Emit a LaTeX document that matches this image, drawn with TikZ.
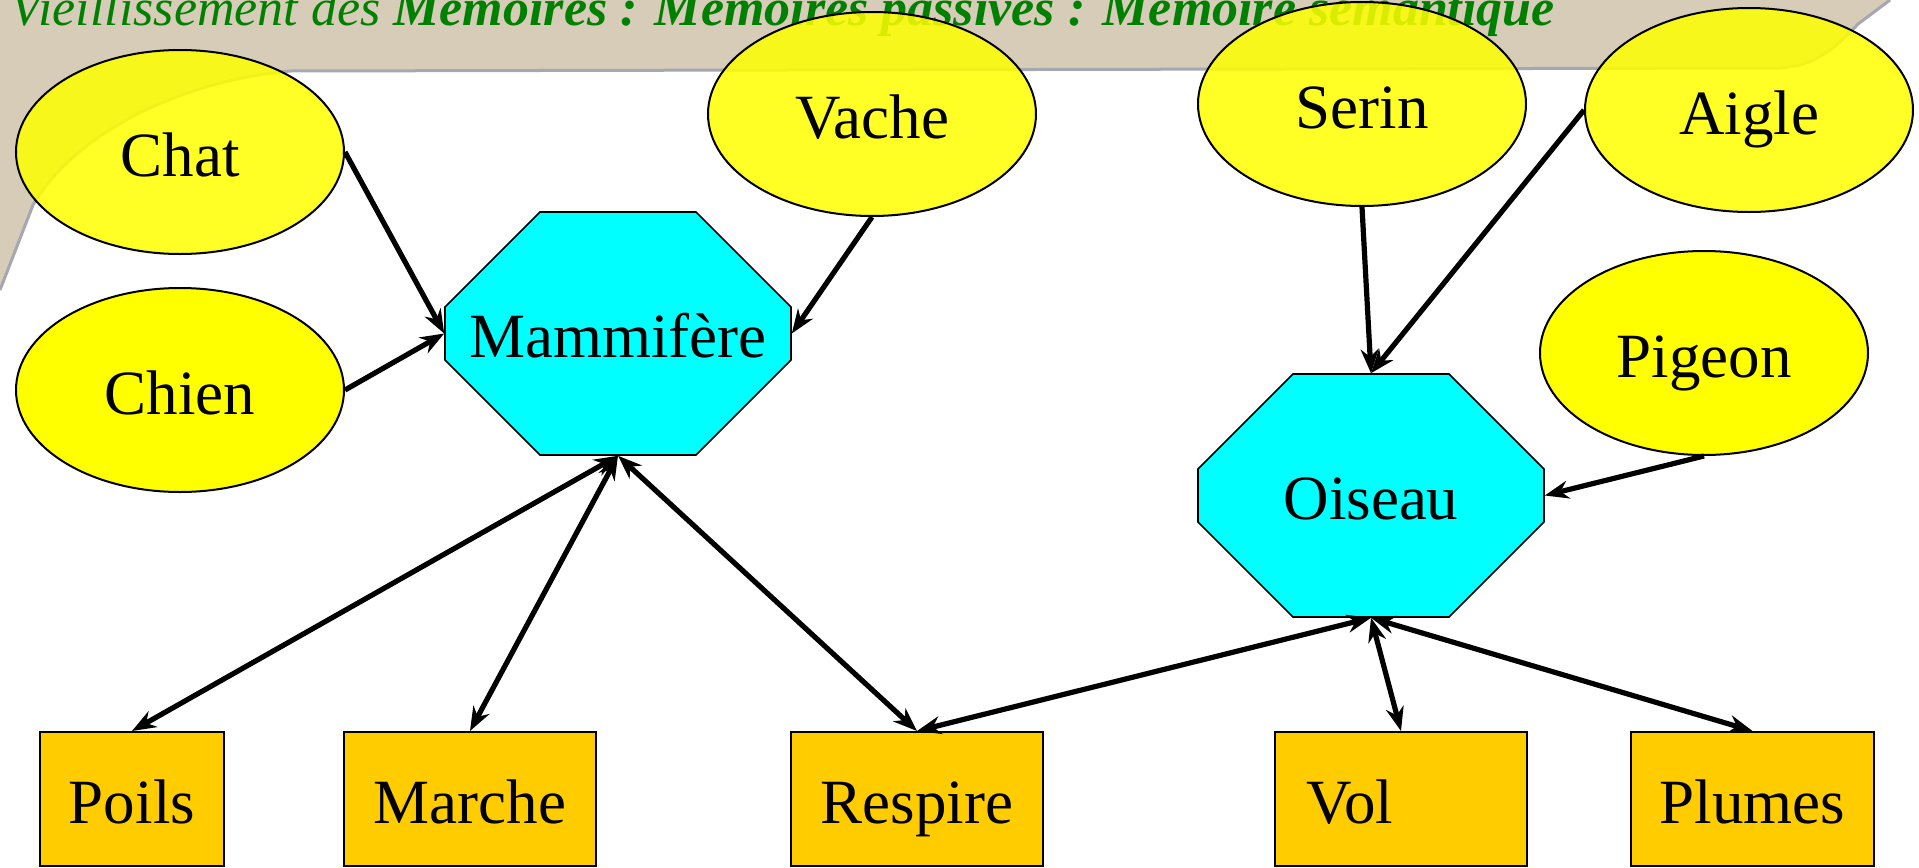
\documentclass[tikz,border=0pt]{standalone}
\usepackage{fontspec}
\setmainfont{Liberation Serif}
\usetikzlibrary{shapes.geometric,shapes.misc,arrows.meta}
\definecolor{banner}{RGB}{214,204,184}
\definecolor{banneredge}{RGB}{165,168,178}
\definecolor{titlegreen}{RGB}{0,128,0}
\definecolor{boxorange}{RGB}{255,204,0}
\definecolor{nodecyan}{RGB}{0,255,255}
\definecolor{nodeyellow}{RGB}{255,255,0}
\begin{document}
\begin{tikzpicture}[x=0.5pt,y=-0.5pt,
  labeltext/.style={font=\fontsize{31.5}{38}\selectfont, text height=24pt, text depth=0pt},
  concept/.style={labeltext, ellipse, draw=black, line width=1pt, fill=nodeyellow,
    minimum width=164pt, minimum height=102pt, inner sep=0pt},
  fadedconcept/.style={concept, fill opacity=0.85, text opacity=1},
  category/.style={labeltext, chamfered rectangle, chamfered rectangle xsep=35.5pt,
    chamfered rectangle ysep=35.5pt, draw=black, line width=0.8pt, fill=nodecyan,
    minimum width=173pt, minimum height=121.5pt, inner sep=0pt},
  feature/.style={labeltext, rectangle, draw=black, line width=1pt, fill=boxorange,
    minimum height=67pt, inner sep=0pt},
  tip/.style={},
  link/.style={line width=2.6pt, -{Stealth[length=12pt,width=9pt]}},
  twoway/.style={line width=2.6pt, {Stealth[length=12pt,width=9pt]}-{Stealth[length=12pt,width=9pt]}},
]
\useasboundingbox (0,0) rectangle (1919,868);
\fill[white] (0,0) rectangle (1919,868);
% banner
\fill[banner] (0,0) -- (1890,0) -- (1858,24) .. controls (1832,52) and (1812,66) .. (1780,68)
  -- (290,71) .. controls (170,82) and (70,140) .. (33,205) -- (0,290) -- cycle;
\draw[banneredge, line width=1.5pt] (1890,0) -- (1858,24) .. controls (1832,52) and (1812,66) .. (1780,68)
  -- (290,71) .. controls (170,82) and (70,140) .. (33,205) -- (0,290);
% title
\node[anchor=base west, inner sep=0pt, text=titlegreen, font=\fontsize{26}{31}\selectfont] (title) at (10,25)
  {\itshape Vieillissement des \bfseries Memoires : Memoires passives : Memoire semantique};
% concepts
\node[fadedconcept] (chat) at (180,152) {Chat};
\node[concept] (chien) at (180,390) {Chien};
\node[fadedconcept] (vache) at (872,114) {Vache};
\node[fadedconcept] (serin) at (1362,104) {Serin};
\node[fadedconcept] (aigle) at (1749,110) {Aigle};
\node[concept] (pigeon) at (1704,353) {Pigeon};
\node[category] (mam) at (618,333.5) {Mammifère};
\node[category] (ois) at (1371,495.5) {Oiseau};
% features
\node[feature, minimum width=92pt] (poils) at (132,799) {Poils};
\node[feature, minimum width=126pt] (marche) at (470,799) {Marche};
\node[feature, minimum width=126pt] (respire) at (917,799) {Respire};
\node[feature, minimum width=126pt] (vol) at (1401,799) {Vol\kern51pt};
\node[feature, minimum width=121.5pt] (plumes) at (1752.5,799) {Plumes};
% links
\draw[link] (chat.east) -- (mam.west);
\draw[link] (chien.east) -- (mam.west);
\draw[link] (vache.south) -- (mam.east);
\draw[link] (serin.south) -- (ois.north);
\draw[link] (aigle.west) -- (ois.north);
\draw[link] (pigeon.south) -- (ois.east);
\draw[twoway] (mam.south) -- (poils.north);
\draw[twoway] (mam.south) -- (marche.north);
\draw[twoway] (mam.south) -- (respire.north);
\draw[twoway] (ois.south) -- (respire.north);
\draw[twoway] (ois.south) -- (vol.north);
\draw[twoway] (ois.south) -- (plumes.north);
\end{tikzpicture}
\end{document}
